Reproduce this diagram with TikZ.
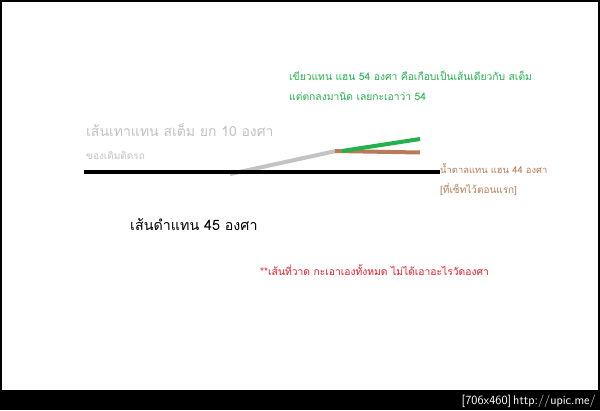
\documentclass[tikz,border=0pt]{standalone}
\usepackage{fontspec}
\newfontfamily\thaifont[Script=Thai]{Loma}
\definecolor{paintgreen}{HTML}{22B14C}
\definecolor{paintbrown}{HTML}{B97A57}
\definecolor{paintgray}{HTML}{C3C3C3}
\definecolor{paintred}{HTML}{ED1C24}
\tikzset{
  thaitext/.style={anchor=base west, inner sep=0pt, font=\thaifont},
  rod/.style={line width=4pt}
}
\begin{document}
\begin{tikzpicture}[x=1pt,y=-1pt]
    \useasboundingbox (0,0) rectangle (600,410);
    \fill[black] (0,0) rectangle (600,410);
    \fill[white] (2,2) rectangle (598,390);

    \coordinate (G1) at (230,174);
    \coordinate (G2) at (336,151);
    \coordinate (B1) at (84,172);
    \coordinate (B2) at (440,172);
    \coordinate (R1) at (335,151);
    \coordinate (R2) at (420,152.5);
    \coordinate (E1) at (342,151);
    \coordinate (E2) at (420,139);

    \draw[rod, paintgray] (G1)--(G2);
    \draw[rod, black] (B1)--(B2);
    \draw[rod, paintbrown] (R1)--(R2);
    \draw[rod, paintgreen] (E1)--(E2);

    \node[thaitext, text=paintgreen, font=\thaifont\fontsize{10.3}{12}\selectfont] (green1) at (289,80) {เขียวแทน แฮน 54 องศา คือเกือบเป็นเส้นเดียวกับ สเต็ม};
    \node[thaitext, text=paintgreen, font=\thaifont\fontsize{10.3}{12}\selectfont] (green2) at (289,100) {แต่ตกลงมานิด เลยกะเอาว่า 54};
    \node[thaitext, text=paintgray, font=\thaifont\fontsize{14}{17}\selectfont] (gray1) at (86,136) {เส้นเทาแทน สเต็ม ยก 10 องศา};
    \node[thaitext, text=paintgray, font=\thaifont\fontsize{10}{12}\selectfont] (gray2) at (86,159) {ของเดิมติดรถ};
    \node[thaitext, text=paintbrown, font=\thaifont\fontsize{9.4}{11}\selectfont] (brown1) at (440,173) {น้ำตาลแทน แฮน 44 องศา};
    \node[thaitext, text=paintbrown, font=\thaifont\fontsize{10}{12}\selectfont] (brown2) at (440,193) {[ที่เซ็ทไว้ตอนแรก]};
    \node[thaitext, font=\thaifont\fontsize{14.3}{17}\selectfont] (black1) at (130,230) {เส้นดำแทน 45 องศา};
    \node[thaitext, text=paintred, font=\thaifont\fontsize{10.3}{12}\selectfont] (note) at (260,275) {**เส้นที่วาด กะเอาเองทั้งหมด ไม่ได้เอาอะไรวัดองศา};
    \node[anchor=base east, inner sep=0pt, text=white, font=\sffamily\fontsize{12.5}{14}\selectfont] (stamp) at (596,404) {[706x460]\,http://upic.me/};
\end{tikzpicture}
\end{document}
